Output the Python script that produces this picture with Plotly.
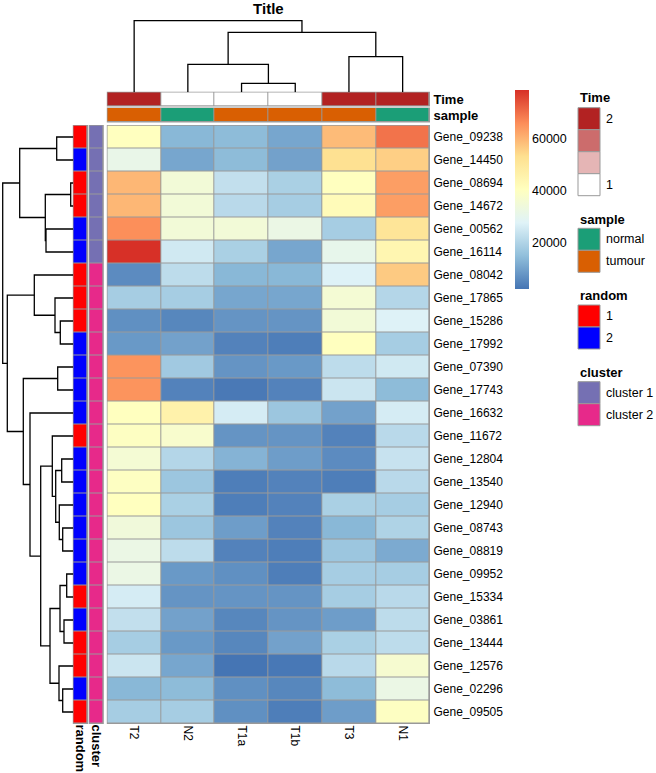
import plotly.graph_objects as go

W, H = 656, 773

# ---------------- data ----------------
col_labels = ["T2", "N2", "T1a", "T1b", "T3", "N1"]
row_labels = ["Gene_09238", "Gene_14450", "Gene_08694", "Gene_14672", "Gene_00562",
              "Gene_16114", "Gene_08042", "Gene_17865", "Gene_15286", "Gene_17992",
              "Gene_07390", "Gene_17743", "Gene_16632", "Gene_11672", "Gene_12804",
              "Gene_13540", "Gene_12940", "Gene_08743", "Gene_08819", "Gene_09952",
              "Gene_15334", "Gene_03861", "Gene_13444", "Gene_12576", "Gene_02296",
              "Gene_09505"]

T2_vals = [40500, 31260, 59750, 59750, 65910, 79000, 5850, 18170, 6620, 8160, 65140, 65140, 40500,
           39730, 35880, 39730, 40500, 34340, 32030, 32030, 25870, 22790, 18170, 24330, 13550, 18170]
N2_vals = [13550, 10470, 35110, 35110, 35110, 25100, 22020, 18170, 5080, 9700, 17400, 4310, 45890,
           37420, 20480, 16630, 18940, 16630, 22020, 8160, 7390, 9700, 8160, 10470, 14320, 18170]
T1a_vals = [14320, 14320, 22790, 21250, 35110, 18940, 13550, 10470, 7390, 4310, 7390, 2770, 25870,
            7390, 12780, 3540, 3540, 8930, 4310, 6620, 7390, 5080, 5080, 2000, 6620, 6620]
T1b_vals = [10470, 9700, 18940, 18170, 32030, 10470, 13550, 10470, 7390, 3540, 8160, 4310, 16630,
            7390, 8930, 4310, 4310, 4310, 3540, 3540, 7390, 7390, 9700, 2500, 5080, 3540]
T3_vals = [58980, 52820, 40500, 42040, 18170, 30490, 27410, 35880, 35110, 40500, 22020, 24330, 9700,
           4310, 5850, 3540, 18940, 13550, 16630, 18170, 18170, 8930, 18940, 21250, 14320, 8930]
N1_vals = [69760, 55900, 63600, 63600, 51280, 44350, 56670, 20480, 27410, 18170, 25100, 14320, 25870,
           21250, 23560, 21250, 18170, 19710, 11240, 18170, 21250, 22020, 22020, 36650, 32030, 39730]

colorbar_ticks = [20000, 40000, 60000]

time_vals = [2, 1, 1, 1, 2, 2]
sample_vals = ["tumour", "normal", "tumour", "tumour", "tumour", "normal"]
random_vals = [1, 2, 1, 1, 2, 2, 1, 1, 1, 2, 2, 2, 2, 1, 2, 2, 2, 2, 2, 2, 1, 2, 1, 1, 2, 1]
cluster_vals = ["cluster 1"] * 6 + ["cluster 2"] * 20

# dendrogram merges: (child a, child b, height); leaves are display positions
row_merges = [(2, 3, 2.6), (19, 20, 6.6), (21, 22, 9.3), (17, 18, 10.6), (24, 25, 10.6),
              (14, 15, 11.6), (8, 9, 13.0), (27, 28, 13.3), (16, 29, 14.0), (23, 30, 14.3),
              (10, 11, 15.6), (0, 1, 16.6), (31, 34, 17.6), (7, 32, 18.3), (13, 38, 21.0),
              (33, 35, 23.3), (4, 5, 27.3), (26, 42, 28.0), (40, 41, 32.6), (6, 39, 39.0),
              (12, 44, 43.3), (36, 46, 50.0), (37, 43, 53.6), (45, 47, 66.0), (48, 49, 70.6)]
col_merges = [(2, 3, 9.0), (1, 6, 28.0), (4, 5, 35.6), (7, 8, 60.0), (0, 9, 71.6)]

time_legend = ["2", "", "", "1"]
sample_levels = ["normal", "tumour"]
random_levels = [1, 2]
cluster_levels = ["cluster 1", "cluster 2"]

# ---------------- styles ----------------
FONT = "Liberation Sans, Arial, sans-serif"
GRID = "#999999"
heat_scale = [[0, "#4575B4"], [1 / 6, "#91BFDB"], [2 / 6, "#E0F3F8"], [3 / 6, "#FFFFBF"],
              [4 / 6, "#FEE090"], [5 / 6, "#FC8D59"], [1, "#D73027"]]
time_colors = ["#B22222", "#CC6C6C", "#E5B5B5", "#FFFFFF"]
sample_colors = {"normal": "#1B9E77", "tumour": "#D95F02"}
random_colors = {1: "#FF0000", 2: "#0000FF"}
cluster_colors = {"cluster 1": "#7570B3", "cluster 2": "#E7298A"}


def fx(px):
    return px / W


def fy(px):
    return 1 - px / H


def discrete_scale(cols):
    n = len(cols)
    sc = []
    for i, c in enumerate(cols):
        sc.append([i / n, c])
        sc.append([(i + 1) / n, c])
    return sc


def dendro_segments(n, merges):
    pos = [float(i) for i in range(n)]
    hgt = [0.0] * n
    p_out, h_out = [], []
    for a, b, h in merges:
        pa, pb, ha, hb = pos[a], pos[b], hgt[a], hgt[b]
        p_out += [pa, pa, pb, pb, None]
        h_out += [ha, h, h, hb, None]
        pos.append((pa + pb) / 2)
        hgt.append(h)
    return p_out, h_out


# geometry (pixels)
HX0, HX1 = 107.3, 429.5
HY0, HY1 = 125.5, 723.5

columns = [T2_vals, N2_vals, T1a_vals, T1b_vals, T3_vals, N1_vals]
z_main = [[columns[j][i] for j in range(len(col_labels))] for i in range(len(row_labels))]
all_vals = [v for c in columns for v in c]

fig = go.Figure()

fig.add_trace(go.Heatmap(
    z=z_main, x=col_labels, y=row_labels, xaxis="x", yaxis="y",
    colorscale=heat_scale, zmin=min(all_vals), zmax=max(all_vals),
    xgap=1, ygap=1, hoverinfo="skip",
    colorbar=dict(thickness=14, thicknessmode="pixels", len=199, lenmode="pixels",
                  x=fx(515), xanchor="left", xpad=0, y=fy(90), yanchor="top", ypad=0,
                  outlinewidth=0, ticks="", tickvals=colorbar_ticks,
                  ticktext=[str(t) for t in colorbar_ticks],
                  tickfont=dict(family=FONT, size=12.5, color="#000"))))

# column annotations
fig.add_trace(go.Heatmap(
    z=[time_vals], x=col_labels, y=["Time"], xaxis="x", yaxis="y2",
    colorscale=[[0, "#FFFFFF"], [1, "#B22222"]], zmin=1, zmax=2,
    xgap=1, ygap=1, showscale=False, hoverinfo="skip"))
fig.add_trace(go.Heatmap(
    z=[[sample_levels.index(s) for s in sample_vals]], x=col_labels, y=["sample"],
    xaxis="x", yaxis="y3",
    colorscale=discrete_scale([sample_colors[s] for s in sample_levels]), zmin=-0.5, zmax=1.5,
    xgap=1, ygap=1, showscale=False, hoverinfo="skip"))

# row annotations
fig.add_trace(go.Heatmap(
    z=[[random_levels.index(r)] for r in random_vals], x=["random"], y=row_labels,
    xaxis="x4", yaxis="y",
    colorscale=discrete_scale([random_colors[r] for r in random_levels]), zmin=-0.5, zmax=1.5,
    xgap=1, ygap=1, showscale=False, hoverinfo="skip"))
fig.add_trace(go.Heatmap(
    z=[[cluster_levels.index(c)] for c in cluster_vals], x=["cluster"], y=row_labels,
    xaxis="x5", yaxis="y",
    colorscale=discrete_scale([cluster_colors[c] for c in cluster_levels]), zmin=-0.5, zmax=1.5,
    xgap=1, ygap=1, showscale=False, hoverinfo="skip"))

# dendrograms
rp, rh = dendro_segments(len(row_labels), row_merges)
fig.add_trace(go.Scatter(x=rh, y=rp, mode="lines", xaxis="x6", yaxis="y6",
                         line=dict(color="black", width=1.3), hoverinfo="skip", showlegend=False))
cp, ch = dendro_segments(len(col_labels), col_merges)
fig.add_trace(go.Scatter(x=cp, y=ch, mode="lines", xaxis="x7", yaxis="y7",
                         line=dict(color="black", width=1.3), hoverinfo="skip", showlegend=False))

rmax = max(m[2] for m in row_merges) + 2
cmax = max(m[2] for m in col_merges) + 2

tick_font = dict(family=FONT, size=12, color="#000")
bold_font = dict(family=FONT, size=13, color="#000", weight="bold")
hidden = dict(visible=False, showgrid=False, zeroline=False, automargin=False)
base = dict(showgrid=False, zeroline=False, ticks="", showline=False, fixedrange=True,
            automargin=False)

fig.update_layout(
    template="none",
    width=W, height=H, margin=dict(l=0, r=0, t=0, b=0, pad=0, autoexpand=False),
    paper_bgcolor="white", plot_bgcolor="rgba(0,0,0,0)",
    showlegend=False, font=dict(family=FONT, color="#000"),
    title=dict(text="<b>Title</b>", x=fx((HX0 + HX1) / 2), xanchor="center",
               y=fy(9), yanchor="middle", font=dict(family=FONT, size=15, color="#000")),
    xaxis=dict(base, domain=[fx(HX0), fx(HX1)], anchor="y", tickangle=90, tickfont=tick_font,
               categoryorder="array", categoryarray=col_labels, ticklabelstandoff=1),
    yaxis=dict(base, domain=[fy(HY1), fy(HY0)], anchor="x", side="right",
               autorange="reversed", tickfont=tick_font, ticklabelstandoff=3),
    yaxis2=dict(base, domain=[fy(106), fy(92.3)], anchor="x", side="right", tickfont=bold_font,
                ticklabelstandoff=3),
    yaxis3=dict(base, domain=[fy(122), fy(108)], anchor="x", side="right", tickfont=bold_font,
                ticklabelstandoff=3),
    xaxis4=dict(base, domain=[fx(73.3), fx(87.7)], anchor="y", tickangle=90, tickfont=bold_font),
    xaxis5=dict(base, domain=[fx(89.3), fx(103.3)], anchor="y", tickangle=90, tickfont=bold_font),
    xaxis6=dict(hidden, domain=[fx(73.3 - rmax), fx(73.3)], range=[rmax, 0], anchor="y6"),
    yaxis6=dict(hidden, domain=[fy(HY1), fy(HY0)], range=[len(row_labels) - 0.5, -0.5], anchor="x6"),
    xaxis7=dict(hidden, domain=[fx(HX0), fx(HX1)], range=[-0.5, len(col_labels) - 0.5], anchor="y7"),
    yaxis7=dict(hidden, domain=[fy(92.3), fy(92.3 - cmax)], range=[0, cmax], anchor="x7"),
)

# grey cell borders (behind gapped heatmaps)
shapes = []
for (x0, x1, y0, y1) in [(HX0, HX1, HY0, HY1), (HX0, HX1, 92.3, 106), (HX0, HX1, 108, 122),
                         (73.3, 87.7, HY0, HY1), (89.3, 103.3, HY0, HY1)]:
    shapes.append(dict(type="rect", xref="paper", yref="paper", layer="below",
                       x0=fx(x0 - 0.5), x1=fx(x1 + 0.5), y0=fy(y1 + 0.5), y1=fy(y0 - 0.5),
                       fillcolor=GRID, line=dict(width=0)))

# legends
annotations = []
LX0, LX1, LT = 578, 600, 604
BOX = 22


def legend_block(title, title_y, top, colors, labels):
    annotations.append(dict(text="<b>" + title + "</b>", x=fx(LX0), y=fy(title_y), xref="paper",
                            yref="paper", xanchor="left", yanchor="middle", showarrow=False,
                            font=dict(family=FONT, size=13, color="#000")))
    for k, (c, lab) in enumerate(zip(colors, labels)):
        y0 = top + k * BOX
        shapes.append(dict(type="rect", xref="paper", yref="paper", x0=fx(LX0), x1=fx(LX1),
                           y0=fy(y0 + BOX), y1=fy(y0), fillcolor=c,
                           line=dict(color=GRID, width=1)))
        if lab != "":
            annotations.append(dict(text=str(lab), x=fx(LT), y=fy(y0 + BOX / 2), xref="paper",
                                    yref="paper", xanchor="left", yanchor="middle",
                                    showarrow=False,
                                    font=dict(family=FONT, size=12.5, color="#000")))


legend_block("Time", 97, 107.7, time_colors, time_legend)
legend_block("sample", 219, 228.3, [sample_colors[s] for s in sample_levels], sample_levels)
legend_block("random", 295, 305, [random_colors[r] for r in random_levels], random_levels)
legend_block("cluster", 372.3, 381.7, [cluster_colors[c] for c in cluster_levels], cluster_levels)

fig.update_layout(shapes=shapes, annotations=annotations)

fig.write_html("out.html", config={"displayModeBar": False},
               post_script="document.body.style.margin='0';document.body.style.overflow='hidden';")
